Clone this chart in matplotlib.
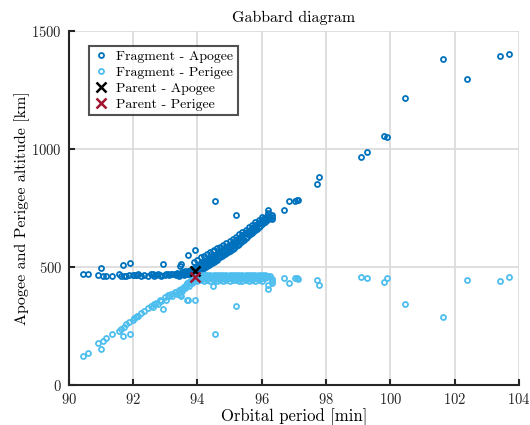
import matplotlib
matplotlib.use("Agg")
import matplotlib.pyplot as plt

plt.rcParams['font.family'] = 'serif'
plt.rcParams['font.serif'] = ['cmr10']
plt.rcParams['mathtext.fontset'] = 'cm'
plt.rcParams['axes.formatter.use_mathtext'] = True

# Fragments with periods below the parent: period [min], apogee / perigee [km]
low_period = [
    90.43, 90.59, 90.90, 91.00, 91.05, 91.16, 91.33, 91.57, 91.62, 91.68,
    91.70, 91.78, 91.88, 91.91, 91.99, 92.04, 92.09, 92.12, 92.14, 92.56,
    92.71, 92.82, 92.92, 92.98, 93.08, 93.18, 93.29, 93.40, 93.45, 93.49,
    93.50, 93.69, 93.71, 93.92, 93.50,
]
low_apogee = [
    468, 470, 465, 496, 461, 461, 461, 472, 461, 507,
    461, 462, 465, 518, 466, 466, 467, 466, 468, 468,
    465, 466, 514, 467, 468, 469, 470, 468, 503, 470,
    472, 470, 549, 573, 514,
]
low_perigee = [
    122, 136, 176, 151, 187, 200, 218, 229, 237, 207,
    244, 258, 267, 214, 277, 283, 289, 291, 293, 334,
    348, 359, 320, 373, 380, 387, 394, 384, 380, 405,
    400, 359, 359, 359, 376,
]

# Cluster where the apogee and perigee branches meet
core_period = [
    92.25, 92.35, 92.45, 92.62, 92.66, 92.76, 92.88, 93.02, 93.12, 93.22,
    93.33, 93.37, 93.44, 93.53, 93.57, 93.62, 93.67, 93.73, 93.78, 93.83,
    93.87,
    93.42, 93.47, 93.52, 93.55, 93.58, 93.61, 93.64, 93.66, 93.69, 93.72,
    93.74, 93.77, 93.80, 93.82, 93.85, 93.88, 93.90, 93.93, 93.96, 93.98,
    94.01, 94.04, 94.07, 94.10, 94.13, 94.16, 94.19, 94.22, 94.25, 94.28,
    94.31,
]
core_apogee = [
    463, 465, 462, 470, 462, 468, 463, 471, 464, 472,
    466, 474, 463, 478, 467, 481, 469, 484, 472, 488,
    475,
    470, 468, 472, 475, 470, 474, 478, 470, 476, 481,
    472, 479, 485, 474, 482, 490, 478, 487, 495, 480,
    492, 500, 486, 498, 507, 494, 505, 514, 500, 512,
    522,
]
core_perigee = [
    305, 313, 325, 330, 343, 345, 357, 362, 378, 377,
    392, 386, 403, 398, 414, 410, 425, 420, 436, 430,
    444,
    398, 404, 408, 410, 416, 419, 420, 427, 430, 431,
    437, 440, 441, 446, 448, 446, 452, 452, 450, 458,
    457, 452, 462, 459, 455, 463, 461, 456, 466, 462,
    457,
]

# Main fragment band above the parent period
band_period = [
    93.90, 93.90, 93.90, 93.95, 93.95, 94.00, 94.00, 94.00, 94.05, 94.05,
    94.10, 94.10, 94.10, 94.15, 94.15, 94.20, 94.20, 94.20, 94.25, 94.25,
    94.30, 94.30, 94.30, 94.35, 94.35, 94.40, 94.40, 94.40, 94.45, 94.45,
    94.50, 94.50, 94.50, 94.55, 94.55, 94.60, 94.60, 94.60, 94.65, 94.65,
    94.70, 94.70, 94.70, 94.75, 94.75, 94.80, 94.80, 94.80, 94.85, 94.85,
    94.90, 94.90, 94.90, 94.95, 94.95, 95.00, 95.00, 95.00, 95.05, 95.05,
    95.10, 95.10, 95.10, 95.15, 95.15, 95.20, 95.20, 95.20, 95.25, 95.25,
    95.30, 95.30, 95.30, 95.35, 95.35, 95.40, 95.40, 95.40, 95.45, 95.45,
    95.50, 95.50, 95.50, 95.55, 95.55, 95.60, 95.60, 95.60, 95.65, 95.65,
    95.70, 95.70, 95.70, 95.75, 95.75, 95.80, 95.80, 95.80, 95.85, 95.85,
    95.90, 95.90, 95.90, 95.95, 95.95, 96.00, 96.00, 96.00, 96.05, 96.05,
    96.10, 96.10, 96.15, 96.15, 96.20, 96.25,
]
band_apogee = [
    478, 495, 520, 481, 500, 484, 505, 528, 486, 510,
    488, 515, 540, 492, 518, 496, 522, 548, 500, 527,
    505, 531, 555, 509, 535, 513, 540, 562, 518, 544,
    522, 548, 570, 527, 552, 531, 556, 578, 536, 560,
    540, 565, 585, 545, 569, 549, 573, 593, 554, 578,
    558, 583, 601, 563, 587, 567, 591, 610, 572, 596,
    577, 600, 620, 582, 605, 587, 611, 628, 593, 617,
    598, 622, 638, 604, 628, 609, 633, 648, 615, 638,
    621, 643, 657, 627, 648, 633, 653, 668, 639, 658,
    645, 664, 678, 650, 670, 656, 676, 690, 662, 681,
    668, 686, 700, 674, 692, 680, 698, 712, 685, 703,
    691, 709, 697, 714, 702, 706,
]
band_perigee = [
    458, 452, 440, 460, 450, 462, 455, 442, 463, 452,
    464, 456, 444, 462, 453, 465, 455, 441, 463, 457,
    464, 454, 443, 462, 456, 465, 453, 440, 463, 455,
    464, 457, 445, 462, 452, 465, 456, 442, 463, 454,
    464, 455, 446, 462, 457, 465, 453, 440, 463, 456,
    464, 454, 443, 462, 457, 465, 455, 441, 463, 452,
    464, 456, 444, 462, 455, 465, 453, 446, 463, 457,
    464, 454, 442, 462, 456, 465, 455, 440, 463, 453,
    464, 457, 445, 462, 454, 465, 456, 441, 463, 455,
    464, 453, 443, 462, 457, 465, 455, 440, 463, 452,
    464, 456, 444, 462, 454, 465, 455, 442, 463, 457,
    464, 453, 462, 456, 463, 460,
]

# Scattered fragments on higher orbits
high_period = [
    94.49, 94.54, 95.19, 96.18, 96.21, 96.31, 96.32, 96.32,
    96.68, 96.85, 97.04, 97.09, 97.12, 97.72, 97.79, 99.09, 99.27, 99.79,
    99.91, 100.45, 101.65, 102.40, 103.41, 103.70,
]
high_apogee = [
    567, 777, 721, 739, 728, 710, 718, 703,
    742, 777, 777, 782, 785, 852, 879, 967, 987, 1056,
    1049, 1214, 1378, 1296, 1393, 1401,
]
high_perigee = [
    418, 214, 334, 408, 422, 440, 432, 447,
    453, 432, 451, 452, 447, 444, 422, 458, 455, 436,
    455, 341, 290, 444, 441, 459,
]

# Parent object
parent_period = [93.93]
parent_apogee = [484]
parent_perigee = [459]

period = low_period + core_period + band_period + high_period
apogee = low_apogee + core_apogee + band_apogee + high_apogee
perigee = low_perigee + core_perigee + band_perigee + high_perigee

fig = plt.figure(figsize=(5.3, 4.25), dpi=100)
ax = fig.add_axes([0.130, 0.094, 0.849, 0.834])

c_apo = '#0072BD'
c_per = '#4DBEEE'

ax.plot(period, apogee, 'o', ls='none', ms=3.6, mew=1.3, mfc='none',
        mec=c_apo, label='Fragment - Apogee')
ax.plot(period, perigee, 'o', ls='none', ms=3.6, mew=1.3, mfc='none',
        mec=c_per, label='Fragment - Perigee')
ax.plot(parent_period, parent_apogee, 'x', ls='none', ms=7.5, mew=1.8,
        color='black', label='Parent - Apogee')
ax.plot(parent_period, parent_perigee, 'x', ls='none', ms=7.5, mew=1.8,
        color='#A2142F', label='Parent - Perigee')

ax.set_xlim(90, 104)
ax.set_ylim(0, 1500)
ax.set_xticks(range(90, 105, 2))
ax.set_yticks([0, 500, 1000, 1500])

ax.grid(True, color='#d9d9d9', lw=1.2)
ax.set_axisbelow(True)
for s in ['top', 'right']:
    ax.spines[s].set_visible(False)
for s in ['left', 'bottom']:
    ax.spines[s].set_linewidth(1.5)
    ax.spines[s].set_color('#262626')
ax.tick_params(direction='in', length=4, width=1.5, labelsize=10.5,
               colors='#262626')
ax.tick_params(axis='x', pad=5)
ax.tick_params(axis='y', pad=5)

ax.set_title('Gabbard diagram', fontsize=11.5, pad=6)
ax.set_xlabel('Orbital period [min]', fontsize=12, labelpad=1)
ax.set_ylabel('Apogee and Perigee altitude [km]', fontsize=11.5, labelpad=1)

leg = ax.legend(loc='upper left', bbox_to_anchor=(0.044, 0.957),
                borderaxespad=0, fontsize=10, frameon=True, fancybox=False,
                edgecolor='#262626', handletextpad=0.5, labelspacing=0.25,
                borderpad=0.3, handlelength=1.2)
leg.get_frame().set_linewidth(1.5)

fig.savefig('out.png', dpi=100)
